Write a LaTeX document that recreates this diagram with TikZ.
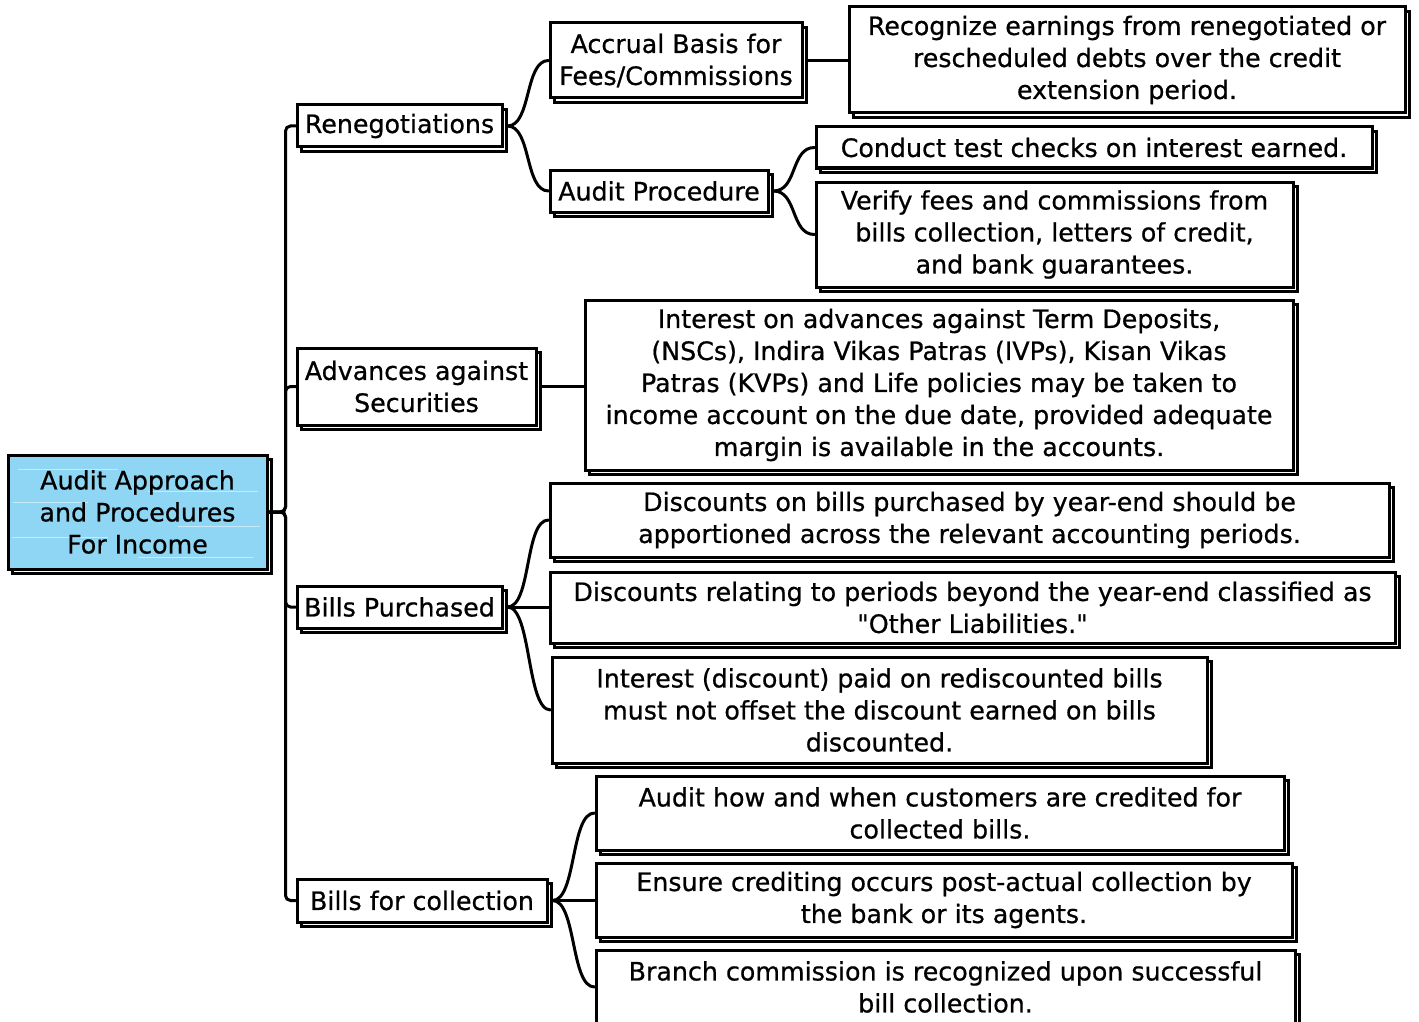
\documentclass[tikz,border=0pt]{standalone}
\usepackage{fontspec}
\setmainfont{DejaVu Sans}[FakeBold=0.7]
\usetikzlibrary{shadows}
\definecolor{rootblue}{HTML}{8ED6F3}
\tikzset{
  card/.style={draw=black, line width=3pt, fill=white, inner sep=0pt, align=center,
    font=\fontsize{25.3}{32}\selectfont,
    general shadow={draw=black, line width=2.4pt, fill=white, shadow xshift=4.5pt, shadow yshift=-4.5pt}},
  rootcard/.style={card, fill=rootblue, path picture={
      \foreach \yy/\xa/\xb in {14/10/110, 36/140/250, 47/5/80, 71/170/252, 82/4/100, 102/130/245}
        \draw[white, line width=1pt, opacity=0.5]
          ([shift={(\xa pt,-\yy pt)}]path picture bounding box.north west) -- ++(\xb pt-\xa pt,0);}},
  sz/.style 2 args={minimum width=#1pt, minimum height=#2pt},
  conn/.style={draw=black, line width=3pt, line cap=round},
  spine/.style={conn, rounded corners=5pt}
}
\begin{document}
\begin{tikzpicture}[x=1pt, y=-1pt]
  \useasboundingbox (0,0) rectangle (1419,1022);
  \clip (0,0) rectangle (1419,1022);

  % root
  \node[rootcard, sz={259}{114}] (root) at (137.5,512) {Audit Approach\\and Procedures\\For Income};

  % first level
  \node[card, sz={205}{42}] (reneg) at (399.5,126) {Renegotiations};
  \node[card, sz={239}{77}] (adv) at (416.5,386.5) {Advances against\\Securities};
  \node[card, sz={205}{42}] (bp) at (399.5,607) {Bills Purchased};
  \node[card, sz={250}{43}] (bfc) at (422,900.5) {Bills for collection};

  % second level
  \node[card, sz={252}{75}] (accr) at (676,60.5) {Accrual Basis for\\Fees/Commissions};
  \node[card, sz={218}{42}] (aproc) at (659,191) {Audit Procedure};

  % leaves
  \node[card, sz={556}{106}] (recog) at (1127,60) {Recognize earnings from renegotiated or\\rescheduled debts over the credit\\extension period.};
  \node[card, sz={556}{41}] (conduct) at (1094,147.5) {Conduct test checks on interest earned.};
  \node[card, sz={477}{105}] (verify) at (1054.5,234.5) {Verify fees and commissions from\\bills collection, letters of credit,\\and bank guarantees.};
  \node[card, sz={708}{170}] (intadv) at (939,385) {Interest on advances against Term Deposits,\\(NSCs), Indira Vikas Patras (IVPs), Kisan Vikas\\Patras (KVPs) and Life policies may be taken to\\income account on the due date, provided adequate\\margin is available in the accounts.};
  \node[card, sz={839}{74}] (disca) at (969.5,520) {Discounts on bills purchased by year-end should be\\apportioned across the relevant accounting periods.};
  \node[card, sz={845}{71}] (discb) at (972.5,607.5) {Discounts relating to periods beyond the year-end classified as\\\textquotedbl Other Liabilities.\textquotedbl};
  \node[card, sz={655}{106}] (intdisc) at (879.5,710) {Interest (discount) paid on rediscounted bills\\must not offset the discount earned on bills\\discounted.};
  \node[card, sz={688}{74}] (howwhen) at (940,813) {Audit how and when customers are credited for\\collected bills.};
  \node[card, sz={696}{74}] (ensure) at (944,900) {Ensure crediting occurs post-actual collection by\\the bank or its agents.};
  \node[card, sz={699}{74}] (branch) at (945.5,987) {Branch commission is recognized upon successful\\bill collection.};

  % spine from the root to the first level
  \foreach \c in {reneg, adv, bp, bfc}
    \draw[spine] (root.east) -- ++(17,0) |- (\c.west);

  % curved branches
  \foreach \p/\c in {reneg/accr, reneg/aproc, aproc/conduct, aproc/verify,
                     bp/disca, bp/intdisc, bfc/howwhen, bfc/branch}
    \draw[conn] ([xshift=4pt]\p.east) .. controls +(24,0) and +(-24,0) .. (\c.west);

  % straight branches
  \draw[conn] ([xshift=4pt]accr.east) -- (recog.west |- accr.east);
  \draw[conn] ([xshift=4pt]adv.east) -- (intadv.west |- adv.east);
  \draw[conn] ([xshift=4pt]bp.east) -- (discb.west |- bp.east);
  \draw[conn] ([xshift=4pt]bfc.east) -- (ensure.west |- bfc.east);
\end{tikzpicture}
\end{document}
